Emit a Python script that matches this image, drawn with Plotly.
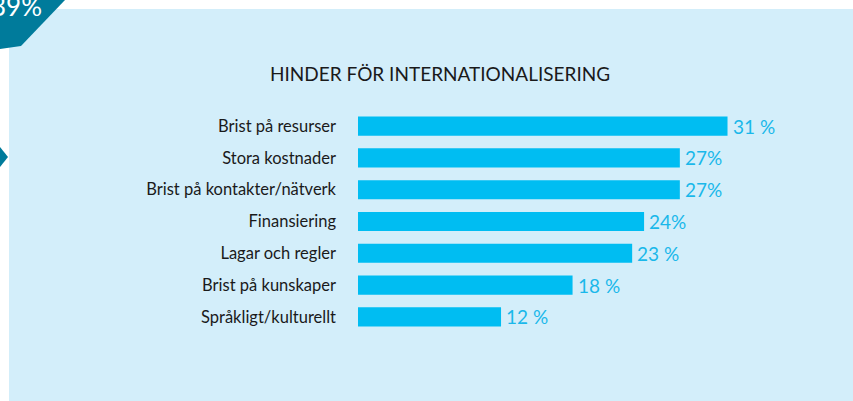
import plotly.graph_objects as go

categories = ["Brist på resurser", "Stora kostnader", "Brist på kontakter/nätverk",
              "Finansiering", "Lagar och regler", "Brist på kunskaper", "Språkligt/kulturellt"]
values = [31, 27, 27, 24, 23, 18, 12]
value_labels = ["31 %", "27%", "27%", "24%", "23 %", "18 %", "12 %"]
title_text = "HINDER FÖR INTERNATIONALISERING"
badge_text = "39%"

W, H = 853, 401
FONT = "Lato"
BAR = "#00bdf2"
PANEL = "#d3eefa"
TEAL = "#007b9b"
LABEL = "#1ab8ea"

def px(x):
    return x / W

def py(y):
    return 1 - y / H

fig = go.Figure()
fig.add_trace(go.Bar(
    x=values, y=categories, orientation="h",
    marker=dict(color=BAR, line=dict(width=0)),
    hoverinfo="skip",
))

annotations = []
for v, c, t in zip(values, categories, value_labels):
    annotations.append(dict(x=v, y=c, xref="x", yref="y", text=t, showarrow=False,
                            xanchor="left", yanchor="middle", xshift=3,
                            font=dict(family=FONT, size=19, color=LABEL)))
annotations.append(dict(x=px(440), y=py(73), xref="paper", yref="paper", text=title_text,
                        showarrow=False, xanchor="center", yanchor="middle",
                        font=dict(family=FONT, size=19, color="#1a1a1a")))
annotations.append(dict(x=px(44), y=py(6), xref="paper", yref="paper", text=badge_text,
                        showarrow=False, xanchor="right", yanchor="middle",
                        font=dict(family=FONT, size=26, color="white")))

shapes = [
    dict(type="rect", xref="paper", yref="paper", x0=px(9), x1=px(W), y0=py(9), y1=py(H),
         fillcolor=PANEL, line=dict(width=0), layer="below"),
    dict(type="path", xref="paper", yref="paper",
         path=f"M {px(0)},{py(0)} L {px(65)},{py(0)} L {px(21)},{py(46)} L {px(0)},{py(49)} Z",
         fillcolor=TEAL, line=dict(width=0), layer="below"),
    dict(type="path", xref="paper", yref="paper",
         path=f"M {px(0)},{py(147)} L {px(8)},{py(157)} L {px(0)},{py(167)} Z",
         fillcolor=TEAL, line=dict(width=0), layer="below"),
]

fig.update_layout(
    width=W, height=H,
    margin=dict(l=0, r=0, t=0, b=0),
    paper_bgcolor="white", plot_bgcolor="rgba(0,0,0,0)",
    showlegend=False,
    bargap=0.4,
    xaxis=dict(domain=[px(358), px(834.8)], range=[0, 40], visible=False, fixedrange=True),
    yaxis=dict(domain=[py(332.8), py(110.2)], autorange="reversed",
               tickfont=dict(family=FONT, size=16.5, color="#1a1a1a"),
               showgrid=False, zeroline=False, showline=False, ticks="", ticklabelstandoff=21,
               fixedrange=True),
    annotations=annotations,
    shapes=shapes,
)

fig.write_html("out.html", config={"displayModeBar": False},
               post_script="document.body.style.margin='0';document.body.style.overflow='hidden';")
